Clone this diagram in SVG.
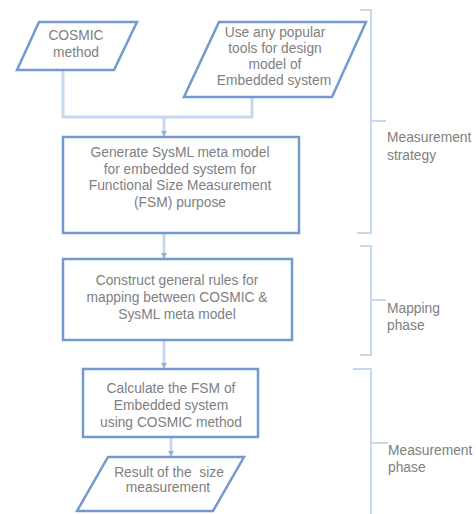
<svg xmlns="http://www.w3.org/2000/svg" width="476" height="514" viewBox="0 0 476 514">
<defs>
<marker id="arr" markerWidth="6" markerHeight="6" refX="5" refY="3" orient="auto" markerUnits="userSpaceOnUse">
<path d="M0,0 L5,3 L0,6 z" fill="#8fb0dc"/>
</marker>
<style>
.box{fill:#fff;stroke:#7399cf;stroke-width:2.5}
.t{font-family:"Liberation Sans",Arial,sans-serif;font-size:13.8px;fill:#808080;text-anchor:middle}
.l{font-family:"Liberation Sans",Arial,sans-serif;font-size:13.8px;fill:#808080}
.c{fill:none;stroke:#c6d8ef;stroke-width:3}
.b{fill:none;stroke:#c6d8ef;stroke-width:2}
</style>
</defs>
<rect width="476" height="514" fill="#fff"/>
<g id="connectors">
<path class="c" d="M63,70 V117 H252 V97"/>
<path class="c" d="M164,117 V136" marker-end="url(#arr)"/>
<path class="c" d="M164,233 V258" marker-end="url(#arr)"/>
<path class="c" d="M164,340 V368" marker-end="url(#arr)"/>
<path class="c" d="M171,437 V456" marker-end="url(#arr)"/>
</g>
<g id="n1">
<polygon class="box" points="39,22 137,22 114,70 17,70"/>
<text class="t" x="76" y="40">COSMIC</text>
<text class="t" x="76" y="57">method</text>
</g>
<g id="n2">
<polygon class="box" points="219,22 366,22 332,97 184,97"/>
<text class="t" x="275" y="37">Use any popular</text>
<text class="t" x="275" y="53">tools for design</text>
<text class="t" x="275" y="69">model of</text>
<text class="t" x="274" y="85">Embedded system</text>
</g>
<g id="n3">
<rect class="box" x="63" y="137" width="236" height="96"/>
<text class="t" x="180" y="157">Generate SysML meta model</text>
<text class="t" x="180" y="173.5">for embedded system for</text>
<text class="t" x="180" y="190">Functional Size Measurement</text>
<text class="t" x="180" y="206.5">(FSM) purpose</text>
</g>
<g id="n4">
<rect class="box" x="63" y="259" width="229" height="81"/>
<text class="t" x="177" y="285">Construct general rules for</text>
<text class="t" x="177" y="302">mapping between COSMIC &amp;</text>
<text class="t" x="177" y="319">SysML meta model</text>
</g>
<g id="n5">
<rect class="box" x="83" y="369" width="175" height="68"/>
<text class="t" x="171" y="393">Calculate the FSM of</text>
<text class="t" x="171" y="410">Embedded system</text>
<text class="t" x="171" y="427">using COSMIC method</text>
</g>
<g id="n6">
<polygon class="box" points="108,457 244,457 213,511 77,511"/>
<text class="t" x="169" y="477" xml:space="preserve">Result of the  size</text>
<text class="t" x="168" y="492">measurement</text>
</g>
<g id="brackets">
<path class="b" d="M360,10 H371 V233 H357"/>
<path class="b" d="M371,121 H386"/>
<path class="b" d="M360,246 H371 V355 H360"/>
<path class="b" d="M371,300 H386"/>
<path class="b" d="M353,369 H371 V514"/>
<path class="b" d="M371,443 H388"/>
</g>
<g id="labels">
<text class="l" x="387" y="142">Measurement</text>
<text class="l" x="387" y="160">strategy</text>
<text class="l" x="387" y="313">Mapping</text>
<text class="l" x="387" y="330">phase</text>
<text class="l" x="388" y="455">Measurement</text>
<text class="l" x="388" y="472">phase</text>
</g>
</svg>
